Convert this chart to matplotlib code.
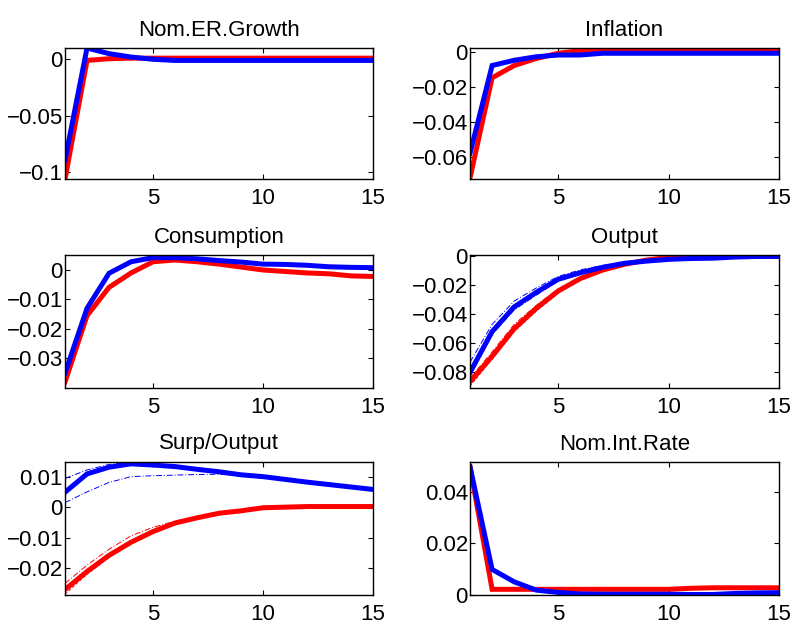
import matplotlib
matplotlib.use("Agg")
import matplotlib.pyplot as plt
from matplotlib.ticker import FuncFormatter

periods = list(range(1, 16))

titles = ["Nom.ER.Growth", "Inflation", "Consumption", "Output", "Surp/Output", "Nom.Int.Rate"]

# main responses (red / blue)
er_red = [-0.106, -0.001, 0.0005, 0.001, 0.001, 0.001, 0.001, 0.001, 0.001, 0.001, 0.001, 0.001, 0.001, 0.001, 0.001]
er_blue = [-0.089, 0.010, 0.005, 0.002, 0.0, -0.001, -0.001, -0.001, -0.001, -0.001, -0.001, -0.001, -0.001, -0.001, -0.001]

inf_red = [-0.072, -0.015, -0.008, -0.004, -0.001, 0.0005, 0.001, 0.001, 0.001, 0.001, 0.001, 0.001, 0.001, 0.001, 0.001]
inf_blue = [-0.058, -0.008, -0.005, -0.003, -0.002, -0.002, -0.001, -0.001, -0.001, -0.001, -0.001, -0.001, -0.001, -0.001, -0.001]

cons_red = [-0.038, -0.0155, -0.0059, -0.001, 0.0028, 0.0034, 0.0028, 0.002, 0.001, 0.0, -0.0005, -0.001, -0.0013, -0.002, -0.0022]
cons_blue = [-0.035, -0.013, -0.0011, 0.0028, 0.0042, 0.0042, 0.0038, 0.0032, 0.0027, 0.002, 0.0019, 0.0016, 0.0011, 0.0009, 0.0008]
cons_red_up = [-0.0365, -0.0145, -0.0052, -0.0005, 0.003, 0.0035, 0.0029, 0.0021, 0.0011, 0.0001, -0.0004, -0.0009, -0.0012, -0.0018, -0.0021]
cons_red_lo = [-0.0398, -0.0165, -0.0066, -0.0016, 0.0026, 0.0033, 0.0027, 0.0019, 0.0009, -0.0001, -0.0006, -0.0011, -0.0014, -0.0021, -0.0023]
cons_blue_up = [-0.034, -0.0125, -0.0007, 0.0031, 0.0045, 0.0044, 0.0039, 0.0033, 0.0028, 0.0021, 0.0020, 0.0017, 0.0012, 0.0010, 0.0009]
cons_blue_lo = [-0.036, -0.0138, -0.0015, 0.0025, 0.0040, 0.0041, 0.0037, 0.0031, 0.0026, 0.0019, 0.0018, 0.0015, 0.0010, 0.0008, 0.0007]

out_red = [-0.0865, -0.069, -0.050, -0.036, -0.024, -0.0155, -0.0097, -0.0057, -0.0028, -0.001, -0.0003, 0.0, 0.0, 0.0, 0.0]
out_blue = [-0.080, -0.052, -0.035, -0.025, -0.016, -0.0115, -0.0078, -0.005, -0.0035, -0.0023, -0.0017, -0.0015, -0.0007, -0.0003, -0.0003]
out_red_up = [-0.084, -0.066, -0.047, -0.034, -0.0225, -0.0145, -0.009, -0.0052, -0.0025, -0.0008, -0.0002, 0.0, 0.0, 0.0, 0.0]
out_red_lo = [-0.0895, -0.071, -0.052, -0.038, -0.0255, -0.0165, -0.0104, -0.0062, -0.0031, -0.0012, -0.0004, 0.0, 0.0, 0.0, 0.0]
out_blue_up = [-0.073, -0.047, -0.031, -0.022, -0.014, -0.0095, -0.0065, -0.0045, -0.003, -0.002, -0.0015, -0.0012, -0.0006, -0.0003, -0.0003]
out_blue_lo = [-0.083, -0.054, -0.037, -0.027, -0.017, -0.0125, -0.0085, -0.0055, -0.0038, -0.0025, -0.0019, -0.0016, -0.0008, -0.0004, -0.0004]

surp_red = [-0.027, -0.0211, -0.0158, -0.0115, -0.0080, -0.0052, -0.0035, -0.0020, -0.0012, -0.0002, 0.0, 0.0002, 0.0002, 0.0002, 0.0002]
surp_blue = [0.0049, 0.0109, 0.0131, 0.0142, 0.0138, 0.0133, 0.0124, 0.0116, 0.0106, 0.0100, 0.0091, 0.0082, 0.0074, 0.0066, 0.0058]
surp_red_up = [-0.025, -0.019, -0.0138, -0.0094, -0.0066, -0.0046, -0.0030, -0.0017, -0.0010, -0.0001, 0.0, 0.0002, 0.0002, 0.0002, 0.0002]
surp_red_lo = [-0.0285, -0.0220, -0.0165, -0.0121, -0.0085, -0.0056, -0.0038, -0.0022, -0.0013, -0.0003, 0.0, 0.0002, 0.0002, 0.0002, 0.0002]
surp_blue_up = [0.0094, 0.0122, 0.0140, 0.0148, 0.0142, 0.0135, 0.0126, 0.0118, 0.0108, 0.0102, 0.0093, 0.0084, 0.0076, 0.0068, 0.0060]
surp_blue_lo = [0.0015, 0.0050, 0.0081, 0.0100, 0.0103, 0.0105, 0.0107, 0.0108, 0.0102, 0.0096, 0.0088, 0.0079, 0.0071, 0.0063, 0.0054]

int_red = [0.0496, 0.0022, 0.0022, 0.0022, 0.0022, 0.0022, 0.0022, 0.0022, 0.0022, 0.0022, 0.0026, 0.0028, 0.0028, 0.0028, 0.0028]
int_blue = [0.0496, 0.0099, 0.0051, 0.0019, 0.001, 0.0004, 0.0003, 0.0003, 0.0003, 0.0003, 0.0002, 0.0002, 0.0006, 0.0008, 0.0009]

yticks = [
    [-0.1, -0.05, 0],
    [-0.06, -0.04, -0.02, 0],
    [-0.03, -0.02, -0.01, 0],
    [-0.08, -0.06, -0.04, -0.02, 0],
    [-0.02, -0.01, 0, 0.01],
    [0, 0.02, 0.04],
]
ylims = [
    (-0.106, 0.010),
    (-0.0727, 0.002),
    (-0.0401, 0.0051),
    (-0.0908, 0.0007),
    (-0.0288, 0.0148),
    (0.0, 0.0515),
]
xticks = [5, 10, 15]

mains = [(er_red, er_blue), (inf_red, inf_blue), (cons_red, cons_blue),
         (out_red, out_blue), (surp_red, surp_blue), (int_red, int_blue)]
bands = [None, None,
         (cons_red_up, cons_red_lo, cons_blue_up, cons_blue_lo),
         (out_red_up, out_red_lo, out_blue_up, out_blue_lo),
         (surp_red_up, surp_red_lo, surp_blue_up, surp_blue_lo),
         None]

plt.rcParams['font.family'] = ['Liberation Sans', 'DejaVu Sans']

fig = plt.figure(figsize=(7.94, 6.25), dpi=100)

col_x = [0.0819, 0.592]
col_w = [0.388, 0.389]
row_y = [0.7136, 0.3792, 0.048]
row_h = [0.2096, 0.2128, 0.2128]

RED = (1, 0, 0)
BLUE = (0, 0, 1)

def fmt(v, pos):
    if abs(v) < 1e-12:
        return "0"
    s = ("%g" % v)
    return s.replace("-", "\u2212")

for i in range(6):
    r, c = divmod(i, 2)
    ax = fig.add_axes([col_x[c], row_y[r], col_w[c], row_h[r]])
    red, blue = mains[i]
    if bands[i] is not None:
        ru, rl, bu, bl = bands[i]
        ax.plot(periods, ru, color=RED, lw=0.7, ls=(0, (6, 2, 1, 2)))
        ax.plot(periods, rl, color=RED, lw=0.7, ls=(0, (3, 2)))
    ax.plot(periods, red, color=RED, lw=3.6, solid_joinstyle='miter')
    if bands[i] is not None:
        ax.plot(periods, bu, color=BLUE, lw=0.7, ls=(0, (6, 2, 1, 2)))
        ax.plot(periods, bl, color=BLUE, lw=0.7, ls=(0, (6, 2, 1, 2)))
    ax.plot(periods, blue, color=BLUE, lw=3.6, solid_joinstyle='miter')
    ax.set_xlim(1, 15)
    ax.set_ylim(*ylims[i])
    ax.set_xticks(xticks)
    ax.set_yticks(yticks[i])
    ax.yaxis.set_major_formatter(FuncFormatter(fmt))
    ax.tick_params(direction='in', top=True, right=True, length=3.5, width=0.8,
                   labelsize=16, pad=1.5)
    ax.tick_params(axis='x', pad=6.5)
    for sp in ax.spines.values():
        sp.set_linewidth(1.0)
    ax.set_title(titles[i], fontsize=16, pad=9)

fig.savefig("out.png", dpi=100)
